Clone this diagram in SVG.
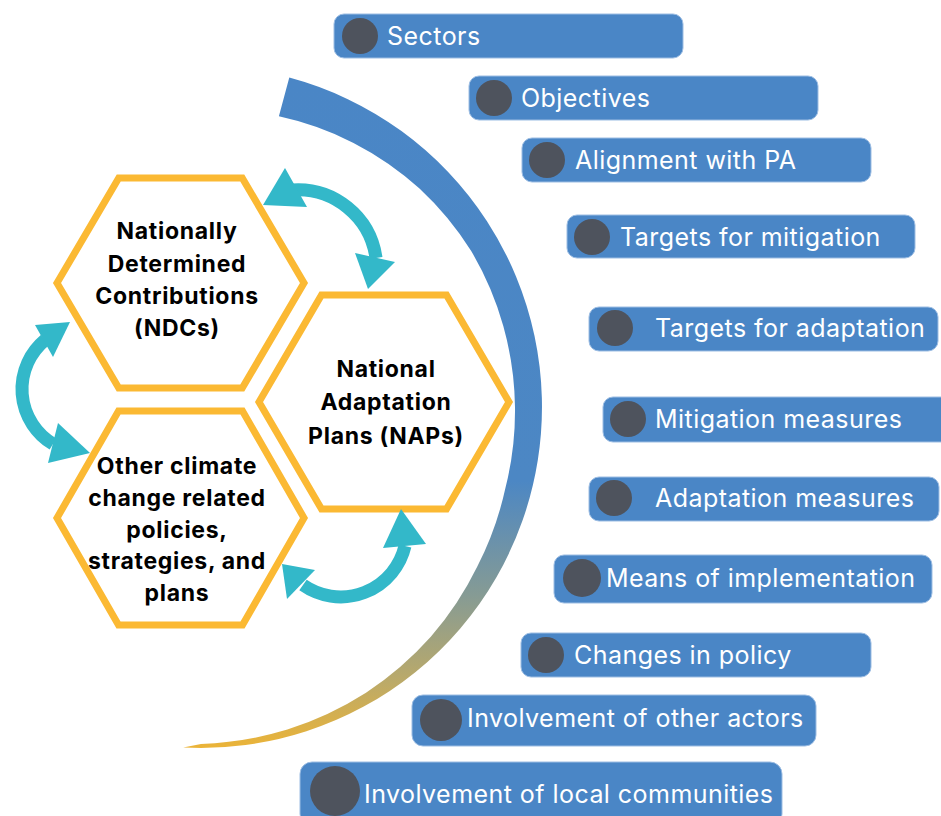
<svg xmlns="http://www.w3.org/2000/svg" width="941" height="816" viewBox="0 0 941 816">
<defs>
<style>
.hex{fill:#fff;stroke:#FBB933;stroke-width:7;stroke-linejoin:miter}
.ht{font-family:Inter,"Liberation Sans",sans-serif;font-weight:700;font-size:23px;letter-spacing:0.7px;fill:#000;text-anchor:middle}
.bar{fill:#4A86C6;stroke:#9CBDE3;stroke-width:1}
.dot{fill:#4E535D}
.bt{font-family:Inter,"Liberation Sans",sans-serif;font-size:25px;letter-spacing:0.45px;fill:#fff}
.shaft{fill:none;stroke:#33B8C9;stroke-width:13}
.head{fill:#33B8C9}
</style>
<linearGradient id="arcg" gradientUnits="userSpaceOnUse" x1="0" y1="77" x2="0" y2="750">
<stop offset="0" stop-color="#4A86C6"/>
<stop offset="0.6" stop-color="#4C87C4"/>
<stop offset="0.77" stop-color="#869B94"/>
<stop offset="0.9" stop-color="#BCAA68"/>
<stop offset="1" stop-color="#EDB436"/>
</linearGradient>
</defs>
<rect width="941" height="816" fill="#fff"/>

<g id="arc">
<path fill="url(#arcg)" d="M289.3 77.6 A341 341 0 0 1 183.2 747.5 L201 744 A337 337 0 0 0 287.4 729.6 A334 334 0 0 0 366 692.8 A330 330 0 0 0 430.8 636.8 A325 325 0 0 0 477.3 566.5 A319 319 0 0 0 505.3 488.5 A315 315 0 0 0 515 407 A314 314 0 0 0 503.3 326 A313 313 0 0 0 471.2 251 A312 312 0 0 0 419.5 188.5 A309 309 0 0 0 353.5 142.9 A305 305 0 0 0 278.9 116.3 Z"/>
</g>

<g id="ndc">
<polygon class="hex" points="57,283 118.75,178 242.25,178 304,283 242.25,388 118.75,388"/>
<text class="ht"><tspan x="177" y="239">Nationally</tspan><tspan x="177" y="272">Determined</tspan><tspan x="177" y="304">Contributions</tspan><tspan x="177" y="336">(NDCs)</tspan></text>
</g>

<g id="nap">
<polygon class="hex" points="259,402 321.5,295 446.5,295 509,402 446.5,509 321.5,509"/>
<text class="ht"><tspan x="386" y="377">National</tspan><tspan x="386" y="410">Adaptation</tspan><tspan x="386" y="444">Plans (NAPs)</tspan></text>
</g>

<g id="other">
<polygon class="hex" points="57,518 118.5,411 242.5,411 304,518 242.5,625 118.5,625"/>
<text class="ht"><tspan x="177" y="474">Other climate</tspan><tspan x="177" y="506">change related</tspan><tspan x="177" y="538">policies,</tspan><tspan x="177" y="569">strategies, and</tspan><tspan x="177" y="601">plans</tspan></text>
</g>

<g id="connectors">
<path class="shaft" d="M292 190 A79 79 0 0 1 376 258"/>
<polygon class="head" points="263,205 285,168 307,207"/>
<polygon class="head" points="368,289 355,253 395,262"/>
<path class="shaft" d="M45 340 A64 64 0 0 0 53 444"/>
<polygon class="head" points="70,322 35,325 53,357"/>
<polygon class="head" points="90,453 58,423 48,463"/>
<path class="shaft" d="M303 585 A66 66 0 0 0 405 546"/>
<polygon class="head" points="282,564 287,599 315,570"/>
<polygon class="head" points="401,509 383,548 426,544"/>
</g>

<g id="bar-sectors"><rect class="bar" x="334" y="14" width="349" height="44" rx="10"/><circle class="dot" cx="360" cy="36" r="18"/><text class="bt" x="387" y="45">Sectors</text></g>
<g id="bar-objectives"><rect class="bar" x="469" y="76" width="349" height="44" rx="10"/><circle class="dot" cx="494" cy="98" r="18"/><text class="bt" x="521" y="107">Objectives</text></g>
<g id="bar-alignment"><rect class="bar" x="522" y="138" width="349" height="44" rx="10"/><circle class="dot" cx="547" cy="160" r="18"/><text class="bt" x="575" y="169">Alignment with PA</text></g>
<g id="bar-tmit"><rect class="bar" x="567" y="215" width="348" height="43" rx="10"/><circle class="dot" cx="592" cy="237" r="18"/><text class="bt" x="620" y="246">Targets for mitigation</text></g>
<g id="bar-tada"><rect class="bar" x="589" y="307" width="349" height="44" rx="10"/><circle class="dot" cx="615" cy="328" r="18"/><text class="bt" x="655" y="337">Targets for adaptation</text></g>
<g id="bar-mmeas"><rect class="bar" x="603" y="397" width="360" height="45" rx="10"/><circle class="dot" cx="628" cy="419" r="18"/><text class="bt" x="655" y="428">Mitigation measures</text></g>
<g id="bar-ameas"><rect class="bar" x="589" y="477" width="350" height="44" rx="10"/><circle class="dot" cx="614" cy="498" r="18"/><text class="bt" x="655" y="507">Adaptation measures</text></g>
<g id="bar-means"><rect class="bar" x="554" y="555" width="378" height="48" rx="10"/><circle class="dot" cx="582" cy="578" r="19"/><text class="bt" x="606" y="587">Means of implementation</text></g>
<g id="bar-changes"><rect class="bar" x="521" y="633" width="350" height="44" rx="10"/><circle class="dot" cx="546" cy="655" r="18"/><text class="bt" x="574" y="664">Changes in policy</text></g>
<g id="bar-other"><rect class="bar" x="412" y="695" width="404" height="51" rx="11"/><circle class="dot" cx="441" cy="720" r="21"/><text class="bt" x="467" y="727">Involvement of other actors</text></g>
<g id="bar-local"><rect class="bar" x="300" y="762" width="482" height="64" rx="12"/><circle class="dot" cx="335" cy="791" r="25"/><text class="bt" x="364" y="803">Involvement of local communities</text></g>
</svg>
